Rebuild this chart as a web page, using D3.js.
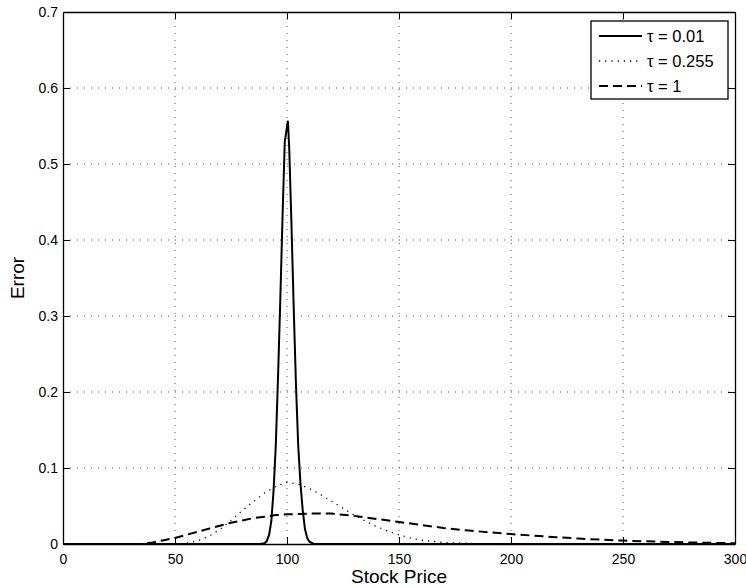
<!doctype html>
<html lang="en">
  <head>
    <meta charset="utf-8">
    <title>Error vs stock price</title>
    <script src="https://d3js.org/d3.v7.min.js"></script>
    <style>
    body { margin: 0; background: #fff; }
    text { font-family: "Liberation Sans", Arial, sans-serif; fill: #000; }
    .grid line { stroke: #555; stroke-dasharray: 1,6; }
    </style>
  </head>

  <body>
    <svg width="746" height="588"></svg>

    <script>
      // tau = 0.01
      var priceA = [0, 85, 88, 90, 91, 92, 93, 94, 95, 96, 97, 98, 99, 100.4, 101, 102, 103, 104, 105, 106, 107, 108, 109, 110, 112, 300];
      var errA   = [0, 0, 0, 0.001, 0.004, 0.012, 0.03, 0.07, 0.13, 0.22, 0.32, 0.43, 0.529, 0.557, 0.52, 0.42, 0.31, 0.21, 0.13, 0.08, 0.045, 0.02, 0.008, 0.003, 0, 0];
      // tau = 0.255
      var priceB = [0, 50, 55, 60, 65, 70, 75, 80, 85, 90, 95, 100, 105, 110, 115, 120, 125, 130, 135, 140, 145, 150, 155, 160, 170, 180, 190, 300];
      var errB   = [0, 0, 0.001, 0.004, 0.01, 0.019, 0.031, 0.044, 0.056, 0.067, 0.076, 0.081, 0.079, 0.073, 0.065, 0.056, 0.047, 0.038, 0.03, 0.023, 0.017, 0.012, 0.008, 0.005, 0.002, 0.001, 0, 0];
      // tau = 1
      var priceC = [0, 30, 35, 40, 45, 50, 55, 60, 65, 70, 75, 80, 85, 90, 95, 100, 110, 120, 130, 140, 150, 160, 170, 180, 190, 200, 210, 220, 230, 240, 250, 260, 270, 280, 290, 300];
      var errC   = [0, 0, 0.0003, 0.002, 0.005, 0.008, 0.012, 0.016, 0.02, 0.024, 0.028, 0.031, 0.034, 0.036, 0.038, 0.039, 0.040, 0.040, 0.037, 0.033, 0.029, 0.025, 0.021, 0.018, 0.0155, 0.013, 0.011, 0.009, 0.0072, 0.0057, 0.0045, 0.0035, 0.0027, 0.002, 0.0015, 0.001];

      var seriesNames = ['\u03c4 = 0.01', '\u03c4 = 0.255', '\u03c4 = 1'];
      var xTicks = [0, 50, 100, 150, 200, 250, 300];
      var yTicks = [0, 0.1, 0.2, 0.3, 0.4, 0.5, 0.6, 0.7];

      var series = [
        { name: seriesNames[0], x: priceA, y: errA, dash: null, width: 2 },
        { name: seriesNames[1], x: priceB, y: errB, dash: '1.2,5', width: 1.3 },
        { name: seriesNames[2], x: priceC, y: errC, dash: '9,5', width: 2 }
      ];

      var svg = d3.select('svg');
      var mLeft = 63, mRight = 735, mTop = 12, mBottom = 544;

      var x = d3.scaleLinear().domain([0, 300]).range([mLeft, mRight]);
      var y = d3.scaleLinear().domain([0, 0.7]).range([mBottom, mTop]);

      // grid
      var grid = svg.append('g').attr('class', 'grid');
      grid.selectAll('.gx')
        .data(xTicks.slice(1, -1))
        .enter().append('line')
          .attr('x1', x).attr('x2', x)
          .attr('y1', mTop).attr('y2', mBottom);
      grid.selectAll('.gy')
        .data(yTicks.slice(1, -1))
        .enter().append('line')
          .attr('y1', y).attr('y2', y)
          .attr('x1', mLeft).attr('x2', mRight);

      // axes (ticks inward, box on all sides)
      svg.append('g')
        .attr('transform', 'translate(0,' + mBottom + ')')
        .call(d3.axisBottom(x).tickValues(xTicks).tickSizeInner(-7).tickSizeOuter(0).tickPadding(10).tickFormat(d3.format('d')));
      svg.append('g')
        .attr('transform', 'translate(0,' + mTop + ')')
        .call(d3.axisTop(x).tickValues(xTicks).tickSizeInner(-7).tickSizeOuter(0).tickFormat(''));
      svg.append('g')
        .attr('transform', 'translate(' + mLeft + ',0)')
        .call(d3.axisLeft(y).tickValues(yTicks).tickSizeInner(-7).tickSizeOuter(0).tickPadding(5).tickFormat(function(d){ return d === 0 ? '0' : d3.format('.1f')(d); }));
      svg.append('g')
        .attr('transform', 'translate(' + mRight + ',0)')
        .call(d3.axisRight(y).tickValues(yTicks).tickSizeInner(-7).tickSizeOuter(0).tickFormat(''));

      svg.selectAll('.domain').attr('stroke', '#000').attr('stroke-width', 1.3);
      svg.selectAll('.tick line').attr('stroke', '#000');
      svg.selectAll('.tick text').style('font-size', '14px');

      // curves
      var line = d3.line()
        .x(function(d){ return x(d[0]); })
        .y(function(d){ return y(d[1]); });

      series.forEach(function(s){
        svg.append('path')
          .datum(d3.zip(s.x, s.y))
          .attr('fill', 'none')
          .attr('stroke', '#000')
          .attr('stroke-width', s.width)
          .attr('stroke-dasharray', s.dash)
          .attr('d', line);
      });

      // labels
      svg.append('text')
        .attr('x', (mLeft + mRight) / 2).attr('y', 583)
        .attr('text-anchor', 'middle')
        .style('font-size', '19px')
        .text('Stock Price');
      svg.append('text')
        .attr('transform', 'translate(24,' + ((mTop + mBottom) / 2) + ') rotate(-90)')
        .attr('text-anchor', 'middle')
        .style('font-size', '19px')
        .text('Error');

      // legend
      var lg = svg.append('g');
      lg.append('rect')
        .attr('x', 591).attr('y', 21).attr('width', 137).attr('height', 78)
        .attr('fill', '#fff').attr('stroke', '#000').attr('stroke-width', 1.3);
      series.forEach(function(s, i){
        var ly = 36 + i * 25;
        lg.append('line')
          .attr('x1', 599).attr('x2', 642).attr('y1', ly).attr('y2', ly)
          .attr('stroke', '#000').attr('stroke-width', s.width)
          .attr('stroke-dasharray', s.dash);
        lg.append('text')
          .attr('x', 647).attr('y', ly + 6)
          .style('font-size', '16.5px')
          .text(s.name);
      });
    </script>
  </body>
</html>
